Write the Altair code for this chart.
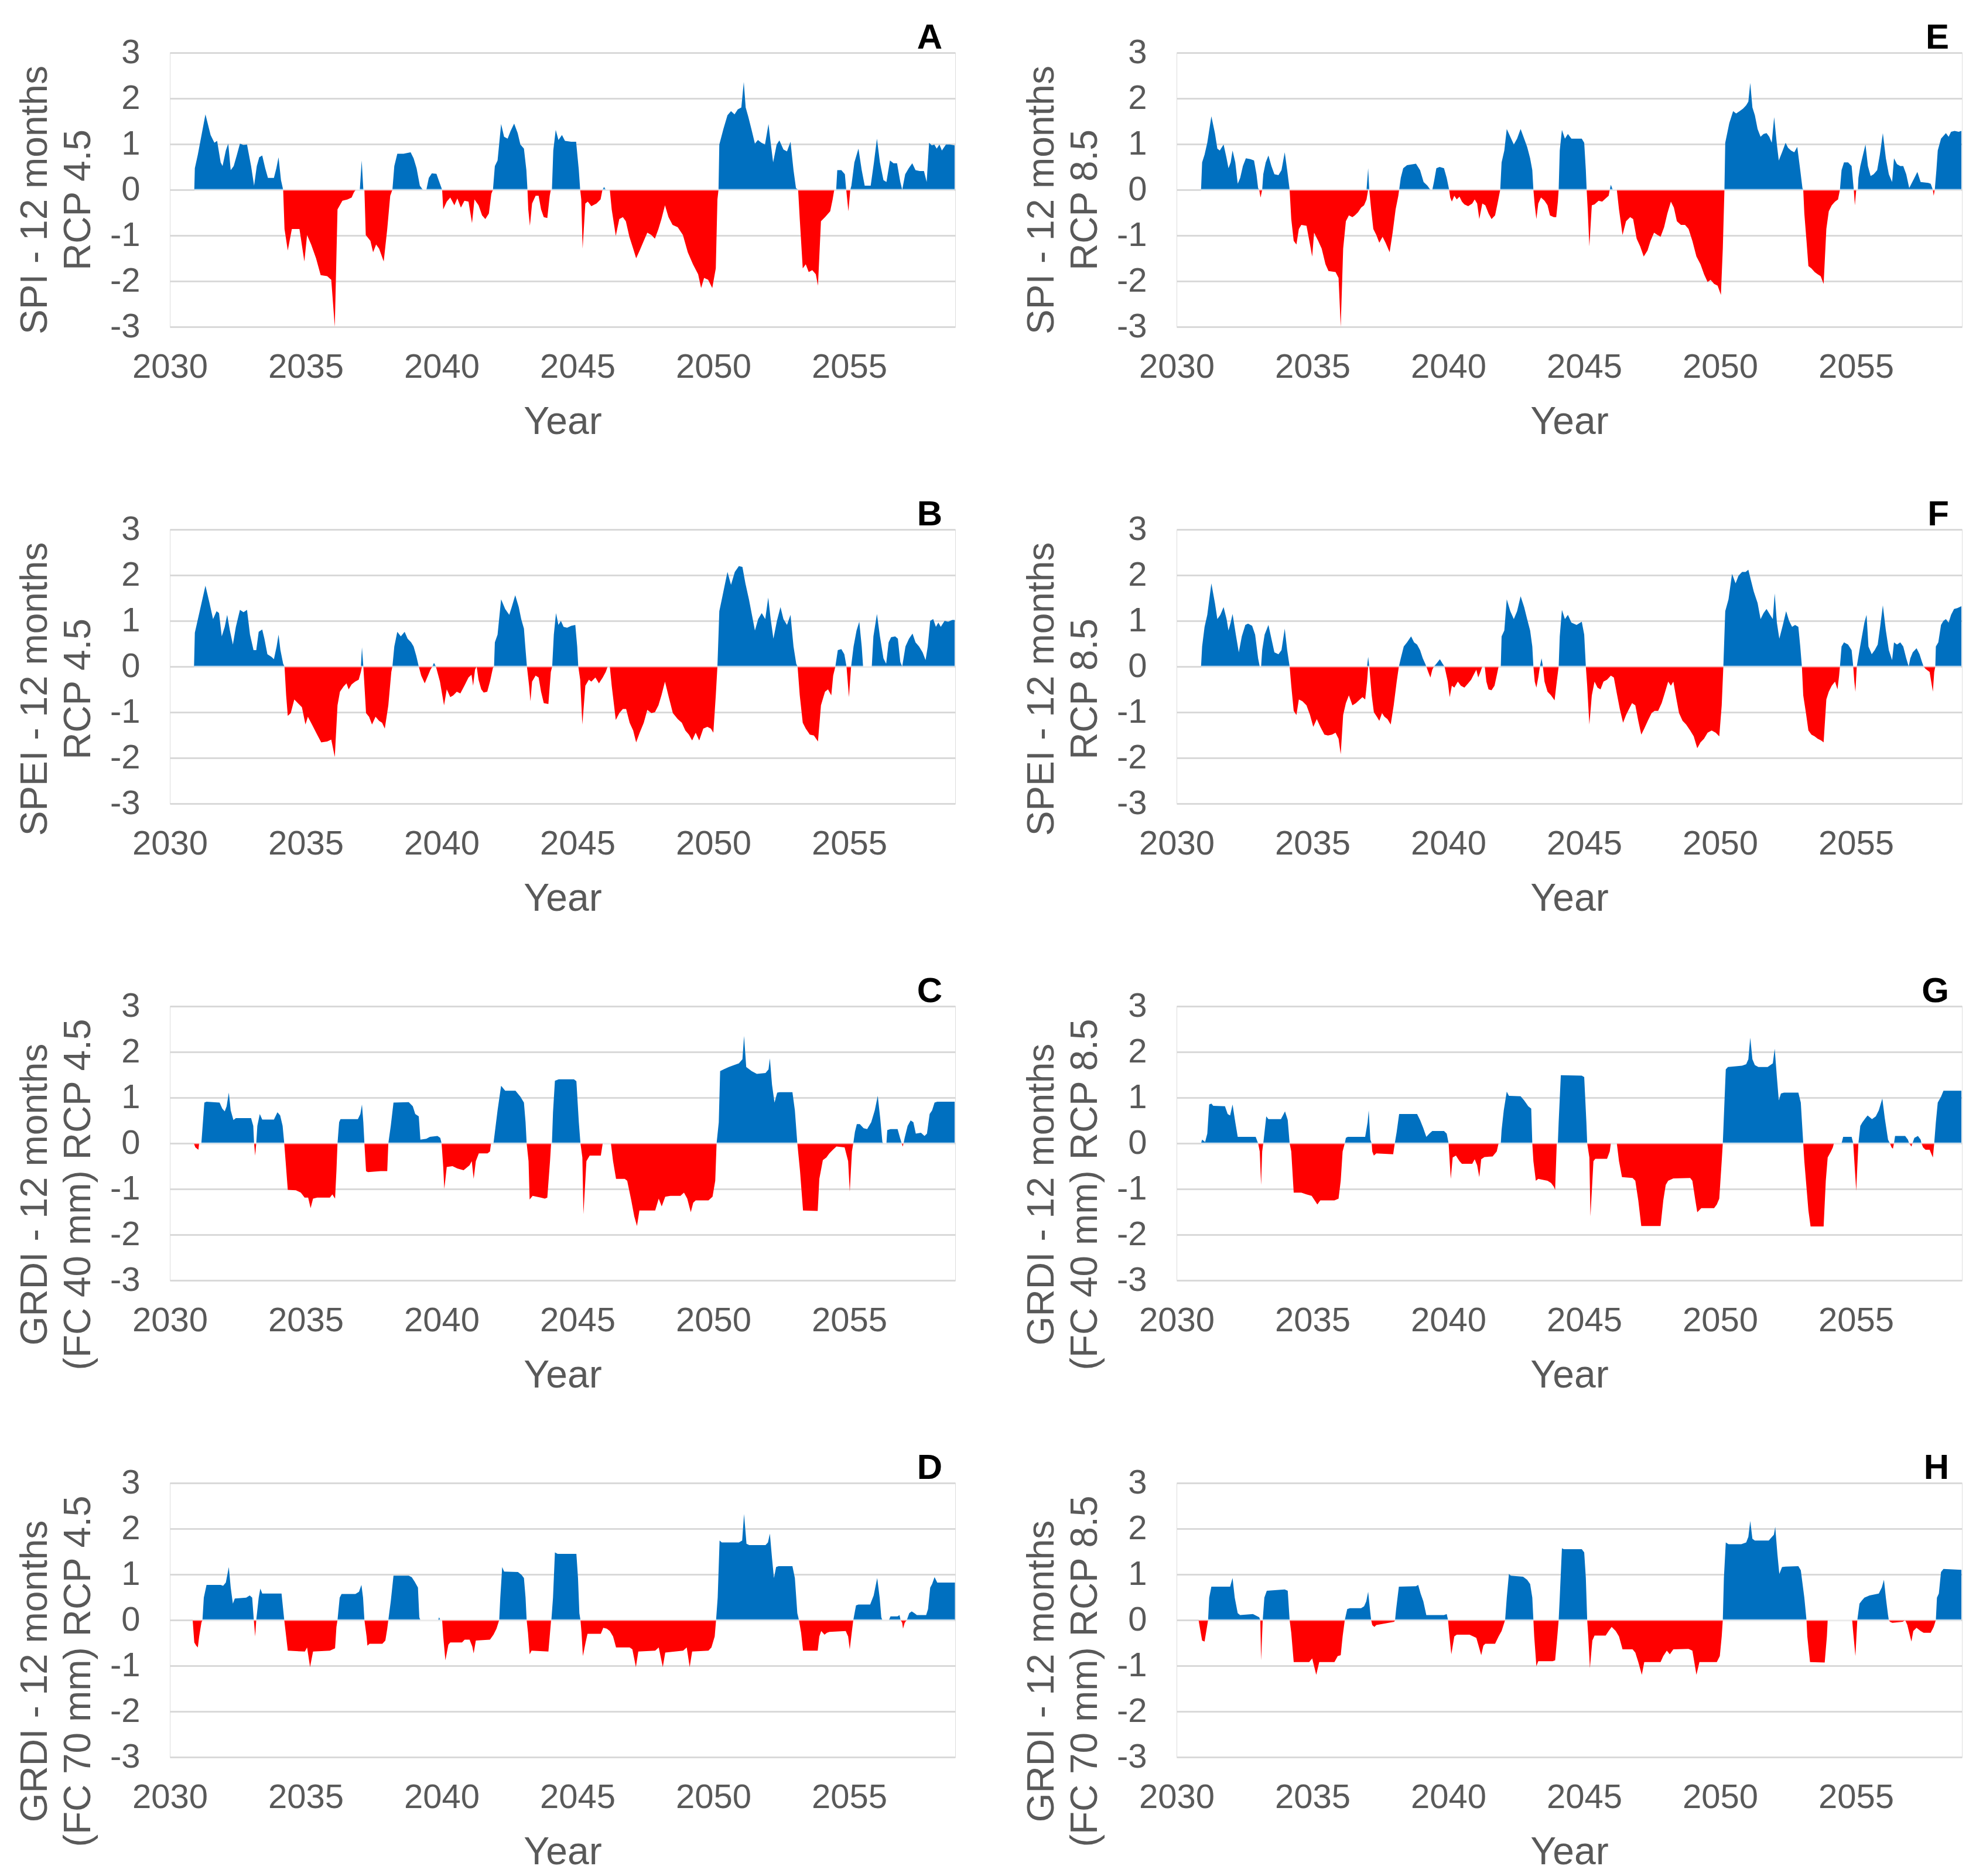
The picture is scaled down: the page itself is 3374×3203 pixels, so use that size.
import altair as alt
import pandas as pd

# ---------------- data: (decimal year, index value) ----------------
SPI_45 = [
(2030.90,0),(2030.92,0.47),(2031.03,0.77),(2031.31,1.65),(2031.50,1.20),(2031.64,1.03),(2031.74,1.07),(2031.87,0.60),(2031.94,0.52),(2032.06,0.86),(2032.15,1.01),(2032.24,0.43),(2032.35,0.52),(2032.47,0.77),(2032.58,1.01),(2032.71,0.98),(2032.84,0.99),(2032.99,0.52),(2033.10,0.09),(2033.20,0.52),(2033.29,0.71),(2033.40,0.75),(2033.51,0.47),(2033.61,0.26),(2033.83,0.26),(2033.92,0.47),(2034.00,0.71),(2034.09,0.21),(2034.17,0),
(2034.22,-0.86),(2034.34,-1.33),(2034.49,-0.86),(2034.77,-0.86),(2034.95,-1.57),(2035.05,-0.99),(2035.20,-1.20),(2035.38,-1.50),(2035.55,-1.87),(2035.79,-1.89),(2035.94,-1.97),(2036.07,-3.0),(2036.17,-0.43),(2036.35,-0.24),(2036.54,-0.21),(2036.69,-0.17),(2036.77,-0.06),(2036.84,0),
(2036.99,0),(2037.06,0.64),(2037.12,0),(2037.16,0),(2037.21,-0.99),(2037.38,-1.12),(2037.48,-1.37),(2037.59,-1.20),(2037.70,-1.29),(2037.87,-1.57),(2038.00,-0.86),(2038.11,-0.13),(2038.19,0),
(2038.26,0.52),(2038.37,0.79),(2038.60,0.79),(2038.86,0.82),(2038.97,0.69),(2039.08,0.47),(2039.20,0.09),(2039.31,0),(2039.44,0),(2039.53,0.26),(2039.64,0.36),(2039.81,0.35),(2039.94,0.13),(2040.02,0),
(2040.06,-0.43),(2040.19,-0.26),(2040.32,-0.17),(2040.47,-0.34),(2040.58,-0.19),(2040.71,-0.39),(2040.84,-0.24),(2040.99,-0.26),(2041.12,-0.73),(2041.21,-0.21),(2041.36,-0.34),(2041.49,-0.56),(2041.61,-0.64),(2041.74,-0.52),(2041.83,-0.09),(2041.89,0),
(2041.96,0.52),(2042.06,0.64),(2042.19,1.44),(2042.30,1.16),(2042.43,1.12),(2042.54,1.29),(2042.67,1.45),(2042.80,1.24),(2042.90,0.99),(2043.03,0.90),(2043.12,0.43),(2043.16,0),
(2043.19,-0.43),(2043.25,-0.79),(2043.33,-0.30),(2043.46,-0.13),(2043.57,-0.13),(2043.66,-0.43),(2043.76,-0.60),(2043.89,-0.62),(2043.98,-0.13),(2044.02,0),
(2044.06,0),(2044.11,0.86),(2044.20,1.31),(2044.30,1.09),(2044.43,1.20),(2044.54,1.07),(2044.77,1.05),(2044.95,1.05),(2045.05,0.43),(2045.10,0),
(2045.14,-0.21),(2045.19,-1.29),(2045.29,-0.30),(2045.38,-0.26),(2045.51,-0.36),(2045.70,-0.30),(2045.85,-0.21),(2045.92,0),(2045.98,0.06),(2046.04,0),(2046.19,0),
(2046.26,-0.43),(2046.41,-1.01),(2046.54,-0.64),(2046.67,-0.60),(2046.78,-0.69),(2046.91,-1.03),(2047.05,-1.29),(2047.16,-1.50),(2047.29,-1.33),(2047.44,-1.12),(2047.57,-0.94),(2047.72,-0.99),(2047.85,-1.07),(2047.98,-0.86),(2048.09,-0.64),(2048.22,-0.34),(2048.35,-0.60),(2048.50,-0.77),(2048.69,-0.82),(2048.88,-0.99),(2049.06,-1.37),(2049.25,-1.63),(2049.44,-1.85),(2049.55,-2.15),(2049.66,-1.93),(2049.81,-1.97),(2049.96,-2.15),(2050.09,-1.72),(2050.15,-0.21),(2050.19,0),
(2050.22,0.99),(2050.37,1.33),(2050.52,1.63),(2050.65,1.72),(2050.78,1.65),(2050.90,1.76),(2051.03,1.80),(2051.12,2.36),(2051.19,1.80),(2051.29,1.59),(2051.40,1.33),(2051.53,1.01),(2051.64,1.09),(2051.77,1.03),(2051.90,0.99),(2052.03,1.44),(2052.11,1.03),(2052.20,0.60),(2052.33,0.99),(2052.43,1.08),(2052.58,0.88),(2052.71,0.84),(2052.84,1.05),(2052.95,0.43),(2053.04,0.04),(2053.12,0),
(2053.18,-0.64),(2053.29,-1.72),(2053.40,-1.63),(2053.51,-1.80),(2053.64,-1.76),(2053.77,-1.85),(2053.85,-2.10),(2053.96,-0.69),(2054.11,-0.60),(2054.30,-0.47),(2054.39,-0.21),(2054.45,0),
(2054.52,0),(2054.56,0.43),(2054.71,0.43),(2054.84,0.34),(2054.89,0),(2054.97,-0.47),(2055.04,0),(2055.08,0.09),(2055.19,0.60),(2055.34,0.90),(2055.46,0.43),(2055.57,0.09),(2055.79,0.09),(2055.91,0.60),(2056.02,1.12),(2056.13,0.60),(2056.26,0.21),(2056.37,0.17),(2056.50,0.64),(2056.63,0.58),(2056.76,0.58),(2056.88,0.17),(2056.95,0),(2057.06,0.34),(2057.19,0.47),(2057.32,0.58),(2057.44,0.43),(2057.59,0.41),(2057.75,0.41),(2057.85,0.17),(2057.94,1.03),(2058.04,0.97),(2058.13,0.99),(2058.22,0.90),(2058.32,0.99),(2058.41,0.86),(2058.56,0.99),(2058.71,0.99),(2058.88,0.97)]

SPEI_45 = [
(2030.89,0),(2030.92,0.74),(2031.31,1.77),(2031.46,1.39),(2031.59,1.04),(2031.72,1.21),(2031.81,1.17),(2031.91,0.66),(2032.02,0.87),(2032.11,1.13),(2032.21,0.79),(2032.32,0.48),(2032.43,0.87),(2032.58,1.24),(2032.71,1.19),(2032.84,1.24),(2032.95,0.70),(2033.08,0.36),(2033.18,0.36),(2033.27,0.76),(2033.40,0.81),(2033.48,0.61),(2033.59,0.27),(2033.74,0.21),(2033.83,0.16),(2033.93,0.44),(2034.00,0.70),(2034.07,0.36),(2034.17,0.06),(2034.22,0),
(2034.28,-0.63),(2034.34,-1.08),(2034.45,-1.02),(2034.58,-0.72),(2034.71,-0.80),(2034.86,-0.89),(2034.99,-1.27),(2035.08,-1.10),(2035.23,-1.27),(2035.42,-1.49),(2035.57,-1.66),(2035.79,-1.64),(2035.94,-1.60),(2036.07,-1.98),(2036.17,-0.85),(2036.26,-0.55),(2036.39,-0.44),(2036.50,-0.37),(2036.58,-0.50),(2036.69,-0.39),(2036.82,-0.33),(2036.95,-0.29),(2037.03,-0.12),(2037.07,0.42),(2037.12,0),
(2037.22,-1.02),(2037.33,-1.10),(2037.44,-1.27),(2037.57,-1.10),(2037.70,-1.19),(2037.81,-1.23),(2037.91,-1.36),(2038.04,-0.85),(2038.15,-0.12),(2038.19,0),
(2038.26,0.44),(2038.37,0.76),(2038.50,0.66),(2038.64,0.76),(2038.75,0.61),(2038.88,0.53),(2038.97,0.44),(2039.07,0.23),(2039.16,0),
(2039.25,-0.20),(2039.38,-0.37),(2039.50,-0.20),(2039.59,-0.07),(2039.66,0),(2039.72,0.08),(2039.79,0),
(2039.94,-0.33),(2040.09,-0.85),(2040.19,-0.50),(2040.32,-0.67),(2040.43,-0.63),(2040.56,-0.55),(2040.69,-0.59),(2040.84,-0.42),(2040.99,-0.24),(2041.10,-0.18),(2041.16,-0.42),(2041.23,-0.07),(2041.29,0),(2041.36,-0.29),(2041.46,-0.50),(2041.55,-0.57),(2041.68,-0.55),(2041.78,-0.33),(2041.89,-0.03),(2041.93,0),
(2041.96,0.53),(2042.06,0.70),(2042.19,1.47),(2042.34,1.26),(2042.49,1.13),(2042.58,1.30),(2042.71,1.56),(2042.84,1.30),(2042.93,1.04),(2043.03,0.83),(2043.08,0.44),(2043.14,0),
(2043.22,-0.42),(2043.27,-0.76),(2043.33,-0.33),(2043.46,-0.20),(2043.57,-0.24),(2043.66,-0.55),(2043.76,-0.80),(2043.93,-0.82),(2044.02,-0.12),(2044.07,0),
(2044.13,0.70),(2044.21,1.17),(2044.30,0.91),(2044.39,1.00),(2044.49,0.87),(2044.62,0.85),(2044.77,0.89),(2044.92,0.91),(2044.99,0.44),(2045.03,0),
(2045.10,-0.29),(2045.18,-1.27),(2045.29,-0.42),(2045.42,-0.29),(2045.51,-0.33),(2045.66,-0.24),(2045.79,-0.37),(2045.93,-0.24),(2046.04,-0.12),(2046.11,0),(2046.19,0),
(2046.26,-0.42),(2046.41,-1.17),(2046.54,-1.02),(2046.67,-0.93),(2046.79,-0.93),(2046.92,-1.23),(2047.05,-1.40),(2047.16,-1.66),(2047.29,-1.45),(2047.44,-1.23),(2047.57,-0.95),(2047.72,-1.02),(2047.85,-1.00),(2047.98,-0.85),(2048.09,-0.63),(2048.22,-0.33),(2048.36,-0.67),(2048.51,-1.02),(2048.69,-1.15),(2048.84,-1.23),(2048.97,-1.40),(2049.10,-1.49),(2049.22,-1.62),(2049.35,-1.45),(2049.48,-1.62),(2049.63,-1.36),(2049.78,-1.32),(2049.91,-1.36),(2050.00,-1.45),(2050.09,-0.63),(2050.15,0),
(2050.22,1.21),(2050.37,1.64),(2050.52,2.07),(2050.65,1.79),(2050.79,2.07),(2050.94,2.20),(2051.07,2.18),(2051.18,1.82),(2051.31,1.47),(2051.42,1.13),(2051.53,0.79),(2051.65,1.04),(2051.78,1.17),(2051.91,1.04),(2052.02,1.51),(2052.11,1.04),(2052.21,0.61),(2052.34,1.00),(2052.47,1.30),(2052.58,1.04),(2052.71,0.91),(2052.84,1.13),(2052.95,0.44),(2053.05,0.06),(2053.10,0),
(2053.18,-0.63),(2053.29,-1.23),(2053.40,-1.36),(2053.55,-1.49),(2053.70,-1.51),(2053.85,-1.64),(2053.96,-0.85),(2054.11,-0.55),(2054.22,-0.50),(2054.34,-0.63),(2054.41,-0.20),(2054.49,0),
(2054.58,0.36),(2054.71,0.38),(2054.82,0.27),(2054.90,0),(2054.99,-0.67),(2055.07,0),(2055.16,0.44),(2055.27,0.79),(2055.37,0.98),(2055.46,0.44),(2055.51,0),(2055.83,0),
(2055.89,0.66),(2056.02,1.15),(2056.13,0.66),(2056.26,0.18),(2056.36,0.06),(2056.45,0.53),(2056.54,0.64),(2056.69,0.66),(2056.79,0.61),(2056.88,0.10),(2056.95,0),(2057.07,0.44),(2057.20,0.61),(2057.33,0.72),(2057.44,0.53),(2057.57,0.44),(2057.70,0.31),(2057.81,0.14),(2057.89,0.44),(2057.98,1.00),(2058.09,1.04),(2058.19,0.87),(2058.28,0.96),(2058.37,0.87),(2058.51,1.00),(2058.64,0.98),(2058.79,1.02),(2058.88,1.02)]

GRDI40_45 = [
(2030.88,0),(2030.94,-0.09),(2031.05,-0.14),(2031.08,0),(2031.16,0),(2031.27,0.89),(2031.35,0.91),(2031.83,0.89),(2031.93,0.76),(2032.02,0.70),(2032.09,0.81),(2032.17,1.11),(2032.24,0.72),(2032.34,0.51),(2032.43,0.55),(2032.99,0.55),(2033.07,0.38),(2033.10,0),(2033.14,-0.27),(2033.18,0),(2033.22,0.38),(2033.31,0.64),(2033.40,0.52),(2033.83,0.52),(2033.96,0.68),(2034.06,0.61),(2034.15,0.38),(2034.21,0),
(2034.26,-0.39),(2034.34,-1.02),(2034.64,-1.03),(2034.82,-1.08),(2034.96,-1.19),(2035.09,-1.19),(2035.18,-1.42),(2035.27,-1.21),(2035.42,-1.19),(2035.89,-1.19),(2035.98,-1.12),(2036.08,-1.21),(2036.13,-0.61),(2036.17,0),
(2036.23,0.46),(2036.28,0.53),(2036.92,0.53),(2037.01,0.64),(2037.07,0.85),(2037.12,0.46),(2037.16,0),
(2037.22,-0.61),(2037.29,-0.63),(2037.76,-0.61),(2038.00,-0.61),(2038.04,0),
(2038.13,0.38),(2038.23,0.89),(2038.79,0.90),(2038.94,0.81),(2039.03,0.64),(2039.16,0.59),(2039.22,0.08),(2039.44,0.10),(2039.57,0.14),(2039.85,0.16),(2039.95,0.12),(2040.00,0),
(2040.06,-0.52),(2040.10,-1.00),(2040.19,-0.52),(2040.40,-0.50),(2040.58,-0.55),(2040.81,-0.59),(2041.03,-0.48),(2041.11,-0.39),(2041.18,-0.78),(2041.26,-0.39),(2041.37,-0.22),(2041.69,-0.22),(2041.78,-0.18),(2041.82,0),(2041.91,0),
(2041.97,0.29),(2042.06,0.72),(2042.19,1.26),(2042.34,1.15),(2042.72,1.15),(2042.90,1.02),(2043.03,0.89),(2043.09,0.46),(2043.13,0),
(2043.20,-0.39),(2043.24,-1.23),(2043.35,-1.15),(2043.65,-1.19),(2043.80,-1.21),(2043.89,-1.19),(2043.99,-0.39),(2044.03,0),(2044.06,0),
(2044.10,0.68),(2044.17,1.37),(2044.31,1.40),(2044.87,1.40),(2044.96,1.36),(2045.05,0.46),(2045.11,0),
(2045.18,-0.31),(2045.22,-1.55),(2045.33,-0.39),(2045.45,-0.27),(2045.86,-0.27),(2045.93,0),(2046.23,0),
(2046.31,-0.39),(2046.42,-0.78),(2046.74,-0.78),(2046.83,-0.82),(2046.98,-1.25),(2047.09,-1.60),(2047.19,-1.81),(2047.28,-1.47),(2047.86,-1.47),(2047.99,-1.21),(2048.10,-1.38),(2048.23,-1.17),(2048.42,-1.15),(2048.79,-1.15),(2048.92,-1.08),(2049.04,-1.21),(2049.17,-1.51),(2049.26,-1.30),(2049.35,-1.25),(2049.82,-1.25),(2049.97,-1.17),(2050.07,-0.82),(2050.12,0),
(2050.20,0.46),(2050.25,1.58),(2050.38,1.62),(2050.57,1.67),(2050.76,1.71),(2050.94,1.75),(2051.07,1.84),(2051.13,2.35),(2051.21,1.67),(2051.41,1.58),(2051.60,1.52),(2051.92,1.54),(2052.03,1.62),(2052.08,1.86),(2052.16,1.28),(2052.25,0.89),(2052.35,1.11),(2052.44,1.12),(2052.91,1.12),(2053.00,0.72),(2053.09,0),
(2053.19,-0.61),(2053.30,-1.47),(2053.84,-1.48),(2053.90,-0.78),(2054.03,-0.37),(2054.16,-0.31),(2054.27,-0.22),(2054.40,-0.14),(2054.53,-0.07),(2054.83,-0.09),(2054.96,-0.39),(2055.02,-1.06),(2055.10,-0.18),(2055.15,0),
(2055.21,0.25),(2055.28,0.42),(2055.39,0.42),(2055.53,0.33),(2055.66,0.31),(2055.81,0.46),(2055.94,0.72),(2056.05,1.04),(2056.14,0.55),(2056.22,0.03),(2056.25,0),(2056.37,0),(2056.40,0.29),(2056.52,0.31),(2056.78,0.31),(2056.87,0.12),(2056.93,0),(2056.97,-0.07),(2057.00,0),(2057.04,0.12),(2057.15,0.38),(2057.26,0.50),(2057.36,0.46),(2057.45,0.21),(2057.64,0.23),(2057.77,0.16),(2057.86,0.21),(2057.96,0.64),(2058.05,0.72),(2058.14,0.89),(2058.24,0.91),(2058.88,0.91)]

GRDI70_45 = [
(2030.84,0),(2030.90,-0.49),(2030.97,-0.56),(2031.03,-0.60),(2031.08,-0.36),(2031.16,-0.06),(2031.20,0),(2031.25,0.49),(2031.35,0.77),(2031.87,0.77),(2031.96,0.75),(2032.06,0.82),(2032.17,1.16),(2032.24,0.71),(2032.32,0.36),(2032.39,0.47),(2032.81,0.49),(2032.94,0.54),(2033.03,0.49),(2033.09,0),(2033.14,-0.36),(2033.18,0),(2033.27,0.49),(2033.33,0.69),(2033.40,0.58),(2034.11,0.58),(2034.21,0),
(2034.28,-0.36),(2034.34,-0.67),(2034.97,-0.69),(2035.05,-0.60),(2035.16,-1.03),(2035.27,-0.69),(2035.89,-0.67),(2036.08,-0.62),(2036.13,-0.15),(2036.17,0),
(2036.25,0.49),(2036.32,0.57),(2036.83,0.57),(2036.96,0.62),(2037.05,0.77),(2037.11,0.49),(2037.16,0),
(2037.24,-0.36),(2037.27,-0.56),(2037.35,-0.52),(2037.82,-0.52),(2037.93,-0.45),(2038.00,-0.19),(2038.04,0),
(2038.13,0.41),(2038.23,0.97),(2038.79,0.97),(2038.90,0.94),(2039.01,0.84),(2039.13,0.71),(2039.18,0.06),(2039.22,0),(2039.87,0),(2039.91,0.06),(2039.95,0),(2040.02,0),
(2040.06,-0.36),(2040.14,-0.88),(2040.25,-0.54),(2040.32,-0.49),(2040.75,-0.49),(2040.85,-0.43),(2041.03,-0.43),(2041.13,-0.58),(2041.18,-0.73),(2041.26,-0.45),(2041.78,-0.43),(2041.91,-0.32),(2042.02,-0.19),(2042.12,0),
(2042.16,0.49),(2042.23,1.16),(2042.30,1.06),(2042.81,1.05),(2042.94,0.99),(2043.03,0.92),(2043.09,0.49),(2043.13,0),
(2043.18,-0.28),(2043.24,-0.75),(2043.31,-0.67),(2043.93,-0.69),(2043.99,-0.28),(2044.03,0),(2044.04,0),
(2044.10,0.49),(2044.17,1.48),(2044.27,1.45),(2044.96,1.45),(2045.02,0.92),(2045.07,0.15),(2045.11,0),
(2045.15,-0.28),(2045.20,-0.79),(2045.30,-0.49),(2045.37,-0.30),(2045.86,-0.30),(2045.95,-0.17),(2046.08,-0.19),(2046.19,-0.24),(2046.31,-0.36),(2046.42,-0.60),(2046.92,-0.60),(2047.02,-0.64),(2047.15,-1.03),(2047.24,-0.69),(2047.86,-0.67),(2047.99,-0.60),(2048.14,-1.03),(2048.23,-0.71),(2048.89,-0.67),(2049.02,-0.60),(2049.13,-1.03),(2049.22,-0.69),(2049.82,-0.67),(2049.93,-0.60),(2050.05,-0.36),(2050.10,0),
(2050.16,0.49),(2050.23,1.74),(2050.31,1.70),(2050.94,1.70),(2051.06,1.74),(2051.13,2.32),(2051.22,1.67),(2051.32,1.64),(2051.92,1.64),(2052.01,1.70),(2052.08,1.89),(2052.16,1.35),(2052.23,0.92),(2052.31,1.16),(2052.40,1.18),(2052.91,1.18),(2053.00,0.92),(2053.09,0.15),(2053.15,0),
(2053.23,-0.28),(2053.30,-0.67),(2053.84,-0.67),(2053.90,-0.36),(2053.97,-0.24),(2054.09,-0.32),(2054.18,-0.28),(2054.27,-0.26),(2054.87,-0.24),(2054.96,-0.36),(2055.02,-0.64),(2055.10,-0.24),(2055.15,0),
(2055.25,0.32),(2055.34,0.34),(2055.77,0.34),(2055.90,0.54),(2056.03,0.92),(2056.12,0.49),(2056.18,0.06),(2056.22,0),(2056.46,0),(2056.52,0.08),(2056.78,0.08),(2056.85,0.11),(2056.89,0),(2056.95,-0.06),(2056.98,-0.19),(2057.04,-0.06),(2057.12,0),
(2057.21,0.15),(2057.30,0.19),(2057.40,0.15),(2057.49,0.11),(2057.83,0.11),(2057.90,0.24),(2057.98,0.71),(2058.05,0.79),(2058.14,0.94),(2058.24,0.82),(2058.89,0.82)]

SPI_85 = [
(2030.90,0),(2030.94,0.60),(2031.03,0.77),(2031.13,1.03),(2031.28,1.61),(2031.41,1.24),(2031.50,0.90),(2031.59,0.86),(2031.73,0.99),(2031.84,0.69),(2031.91,0.47),(2031.99,0.60),(2032.06,0.86),(2032.16,0.60),(2032.25,0.13),(2032.34,0.26),(2032.44,0.52),(2032.55,0.69),(2032.72,0.67),(2032.85,0.64),(2032.94,0.34),(2033.00,0.04),(2033.04,0),(2033.09,-0.17),(2033.15,0),(2033.19,0.34),(2033.28,0.60),(2033.38,0.75),(2033.49,0.52),(2033.60,0.34),(2033.75,0.32),(2033.86,0.43),(2033.98,0.82),(2034.07,0.43),(2034.16,0),
(2034.22,-0.64),(2034.31,-1.12),(2034.41,-1.20),(2034.50,-0.86),(2034.59,-0.77),(2034.78,-0.79),(2034.91,-1.20),(2034.99,-1.46),(2035.06,-0.94),(2035.21,-1.12),(2035.34,-1.29),(2035.48,-1.63),(2035.59,-1.78),(2035.85,-1.80),(2035.96,-1.93),(2036.04,-3.0),(2036.13,-1.29),(2036.23,-0.69),(2036.34,-0.56),(2036.47,-0.60),(2036.56,-0.56),(2036.68,-0.49),(2036.79,-0.39),(2036.90,-0.34),(2036.99,-0.21),(2037.05,0.47),(2037.09,0),
(2037.16,-0.43),(2037.24,-0.86),(2037.35,-0.99),(2037.46,-1.16),(2037.58,-1.03),(2037.69,-1.16),(2037.84,-1.37),(2037.95,-0.94),(2038.06,-0.43),(2038.16,-0.13),(2038.19,0),
(2038.25,0.26),(2038.34,0.47),(2038.48,0.54),(2038.81,0.57),(2038.96,0.43),(2039.09,0.17),(2039.23,0.09),(2039.34,0),(2039.41,0),(2039.47,0.17),(2039.56,0.47),(2039.68,0.50),(2039.84,0.47),(2039.94,0.26),(2040.03,0),
(2040.07,-0.17),(2040.13,-0.26),(2040.22,-0.13),(2040.31,-0.21),(2040.41,-0.15),(2040.50,-0.26),(2040.59,-0.32),(2040.73,-0.36),(2040.88,-0.30),(2040.97,-0.21),(2041.06,-0.30),(2041.14,-0.64),(2041.25,-0.30),(2041.36,-0.34),(2041.48,-0.52),(2041.59,-0.64),(2041.72,-0.56),(2041.81,-0.30),(2041.91,0),
(2041.96,0.60),(2042.06,0.86),(2042.15,1.33),(2042.28,1.16),(2042.41,0.99),(2042.53,1.12),(2042.66,1.33),(2042.79,1.12),(2042.90,0.94),(2043.01,0.69),(2043.09,0.43),(2043.13,0),
(2043.18,-0.34),(2043.24,-0.64),(2043.31,-0.30),(2043.41,-0.17),(2043.54,-0.24),(2043.65,-0.34),(2043.74,-0.56),(2043.88,-0.60),(2043.97,-0.60),(2044.03,-0.26),(2044.06,0),
(2044.10,0.86),(2044.18,1.31),(2044.29,1.12),(2044.40,1.22),(2044.53,1.12),(2044.91,1.12),(2045.00,1.03),(2045.06,0.43),(2045.09,0),
(2045.13,-0.43),(2045.19,-1.24),(2045.28,-0.34),(2045.38,-0.32),(2045.53,-0.24),(2045.66,-0.26),(2045.79,-0.19),(2045.90,-0.13),(2045.94,0),(2045.98,0.11),(2046.05,0),(2046.20,0),
(2046.28,-0.43),(2046.41,-0.99),(2046.54,-0.69),(2046.69,-0.60),(2046.80,-0.64),(2046.93,-1.07),(2047.06,-1.24),(2047.19,-1.46),(2047.33,-1.33),(2047.44,-1.12),(2047.57,-0.94),(2047.70,-0.99),(2047.81,-1.03),(2047.94,-0.82),(2048.06,-0.52),(2048.19,-0.26),(2048.30,-0.39),(2048.41,-0.69),(2048.56,-0.77),(2048.71,-0.77),(2048.84,-0.86),(2048.98,-1.12),(2049.13,-1.46),(2049.28,-1.63),(2049.41,-1.85),(2049.54,-2.02),(2049.65,-1.97),(2049.78,-2.06),(2049.91,-2.10),(2050.03,-2.30),(2050.10,-1.29),(2050.16,0),
(2050.19,1.03),(2050.34,1.46),(2050.48,1.72),(2050.59,1.67),(2050.72,1.72),(2050.85,1.78),(2050.96,1.85),(2051.04,1.93),(2051.11,2.34),(2051.19,1.80),(2051.28,1.63),(2051.38,1.33),(2051.49,1.16),(2051.60,1.22),(2051.71,1.24),(2051.81,1.16),(2051.90,1.03),(2051.99,1.59),(2052.09,0.99),(2052.16,0.64),(2052.28,0.82),(2052.41,1.03),(2052.50,0.92),(2052.61,0.86),(2052.73,0.82),(2052.84,0.94),(2052.95,0.43),(2053.03,0.04),(2053.06,0),
(2053.10,-0.52),(2053.18,-1.12),(2053.25,-1.67),(2053.36,-1.72),(2053.48,-1.80),(2053.59,-1.85),(2053.70,-1.89),(2053.81,-2.06),(2053.91,-0.86),(2054.00,-0.47),(2054.11,-0.34),(2054.23,-0.26),(2054.34,-0.21),(2054.41,0),
(2054.47,0.43),(2054.56,0.60),(2054.71,0.60),(2054.84,0.52),(2054.92,0),(2054.96,-0.34),(2055.01,0),(2055.07,0),(2055.09,0.26),(2055.16,0.52),(2055.26,0.77),(2055.35,0.99),(2055.44,0.52),(2055.54,0.30),(2055.65,0.34),(2055.78,0.43),(2055.88,0.77),(2055.99,1.24),(2056.10,0.69),(2056.21,0.34),(2056.33,0.17),(2056.40,0.69),(2056.51,0.56),(2056.63,0.52),(2056.74,0.52),(2056.85,0.34),(2056.96,0.04),(2057.04,0.13),(2057.15,0.26),(2057.26,0.39),(2057.38,0.17),(2057.66,0.15),(2057.75,0.13),(2057.83,0),(2057.86,-0.13),(2057.90,0),
(2057.96,0.43),(2058.01,0.86),(2058.13,1.12),(2058.22,1.18),(2058.31,1.24),(2058.41,1.16),(2058.50,1.27),(2058.63,1.29),(2058.78,1.27),(2058.88,1.29)]

SPEI_85 = [
(2030.90,0),(2030.94,0.44),(2031.03,0.87),(2031.13,1.13),(2031.28,1.82),(2031.41,1.39),(2031.50,1.04),(2031.61,1.13),(2031.73,1.30),(2031.84,1.04),(2031.91,0.79),(2031.99,0.96),(2032.06,1.15),(2032.18,0.70),(2032.29,0.31),(2032.40,0.66),(2032.53,0.91),(2032.63,0.94),(2032.78,0.89),(2032.89,0.70),(2033.00,0.18),(2033.06,0),(2033.11,0),(2033.15,0.36),(2033.24,0.70),(2033.38,0.91),(2033.49,0.61),(2033.60,0.31),(2033.75,0.27),(2033.86,0.36),(2033.98,0.83),(2034.07,0.36),(2034.16,0),
(2034.22,-0.42),(2034.31,-0.97),(2034.41,-1.06),(2034.50,-0.72),(2034.63,-0.76),(2034.78,-0.85),(2034.91,-1.06),(2035.03,-1.32),(2035.16,-1.15),(2035.29,-1.32),(2035.44,-1.49),(2035.57,-1.51),(2035.72,-1.49),(2035.85,-1.45),(2035.96,-1.58),(2036.04,-1.92),(2036.13,-1.06),(2036.23,-0.80),(2036.34,-0.63),(2036.47,-0.85),(2036.60,-0.80),(2036.71,-0.74),(2036.84,-0.67),(2036.94,-0.72),(2037.01,-0.33),(2037.05,0.21),(2037.09,0),
(2037.18,-0.63),(2037.26,-1.00),(2037.37,-1.10),(2037.46,-1.19),(2037.56,-1.02),(2037.65,-1.10),(2037.76,-1.15),(2037.88,-1.27),(2037.99,-0.85),(2038.10,-0.33),(2038.18,0),
(2038.25,0.18),(2038.36,0.44),(2038.48,0.53),(2038.63,0.66),(2038.74,0.53),(2038.85,0.48),(2038.96,0.36),(2039.06,0.18),(2039.15,0.06),(2039.19,0),(2039.26,-0.12),(2039.34,-0.24),(2039.41,-0.07),(2039.47,0),(2039.56,0.06),(2039.69,0.16),(2039.79,0.06),(2039.86,0),
(2039.98,-0.33),(2040.05,-0.67),(2040.13,-0.42),(2040.22,-0.46),(2040.35,-0.33),(2040.46,-0.42),(2040.59,-0.46),(2040.73,-0.37),(2040.84,-0.29),(2040.95,-0.16),(2041.03,-0.07),(2041.10,-0.24),(2041.18,-0.12),(2041.25,0),(2041.34,0),(2041.40,-0.33),(2041.48,-0.50),(2041.59,-0.52),(2041.70,-0.42),(2041.78,-0.20),(2041.85,0),(2041.93,0),
(2041.96,0.66),(2042.06,0.79),(2042.15,1.47),(2042.28,1.21),(2042.41,1.04),(2042.53,1.21),(2042.66,1.54),(2042.79,1.30),(2042.90,1.04),(2043.01,0.79),(2043.09,0.44),(2043.13,0),
(2043.18,-0.33),(2043.24,-0.46),(2043.31,-0.24),(2043.37,0),(2043.43,0.18),(2043.48,0),(2043.54,-0.33),(2043.65,-0.55),(2043.78,-0.63),(2043.91,-0.74),(2043.99,-0.33),(2044.06,0),
(2044.10,0.66),(2044.18,1.24),(2044.29,1.04),(2044.40,1.13),(2044.53,0.96),(2044.72,0.91),(2044.91,0.98),(2045.00,0.70),(2045.06,0),
(2045.11,-0.42),(2045.19,-1.27),(2045.28,-0.63),(2045.38,-0.33),(2045.49,-0.46),(2045.60,-0.50),(2045.71,-0.33),(2045.84,-0.29),(2045.98,-0.20),(2046.09,-0.24),(2046.20,-0.59),(2046.31,-0.93),(2046.43,-1.23),(2046.54,-1.06),(2046.65,-0.93),(2046.76,-0.80),(2046.88,-0.85),(2046.99,-1.19),(2047.10,-1.49),(2047.21,-1.36),(2047.34,-1.19),(2047.48,-1.02),(2047.59,-0.97),(2047.72,-0.97),(2047.85,-0.80),(2047.96,-0.59),(2048.09,-0.33),(2048.19,-0.42),(2048.28,-0.33),(2048.38,-0.67),(2048.49,-1.02),(2048.62,-1.19),(2048.75,-1.27),(2048.90,-1.40),(2049.03,-1.53),(2049.16,-1.79),(2049.28,-1.66),(2049.41,-1.58),(2049.54,-1.45),(2049.69,-1.40),(2049.84,-1.45),(2049.97,-1.53),(2050.06,-0.85),(2050.12,0),
(2050.19,1.21),(2050.31,1.47),(2050.44,2.03),(2050.57,1.82),(2050.68,1.99),(2050.81,2.07),(2050.94,2.07),(2051.04,2.12),(2051.13,1.90),(2051.24,1.64),(2051.38,1.39),(2051.49,1.04),(2051.60,1.17),(2051.71,1.26),(2051.84,1.13),(2051.94,1.04),(2052.01,1.60),(2052.09,0.96),(2052.18,0.61),(2052.31,0.91),(2052.43,1.21),(2052.54,1.00),(2052.65,0.87),(2052.76,0.91),(2052.88,0.87),(2052.95,0.44),(2053.01,0),
(2053.06,-0.63),(2053.16,-1.02),(2053.25,-1.40),(2053.36,-1.49),(2053.48,-1.53),(2053.59,-1.58),(2053.72,-1.62),(2053.81,-1.66),(2053.91,-0.72),(2054.00,-0.55),(2054.11,-0.42),(2054.23,-0.33),(2054.32,-0.50),(2054.38,-0.20),(2054.41,0),
(2054.47,0.44),(2054.56,0.53),(2054.71,0.48),(2054.84,0.36),(2054.90,0),(2054.94,-0.33),(2054.98,-0.55),(2055.03,0),(2055.13,0.36),(2055.22,0.66),(2055.31,0.96),(2055.39,1.13),(2055.46,0.44),(2055.58,0.27),(2055.69,0.36),(2055.80,0.48),(2055.89,0.87),(2055.99,1.34),(2056.10,0.79),(2056.21,0.36),(2056.33,0.14),(2056.40,0.53),(2056.51,0.48),(2056.63,0.53),(2056.74,0.44),(2056.85,0.18),(2056.94,0),(2057.00,0.18),(2057.09,0.31),(2057.23,0.40),(2057.34,0.27),(2057.43,0.10),(2057.49,0),(2057.56,-0.05),(2057.71,-0.12),(2057.83,-0.55),(2057.88,-0.12),(2057.92,0),
(2057.94,0.44),(2058.03,0.53),(2058.13,0.91),(2058.22,1.00),(2058.31,1.04),(2058.41,0.96),(2058.50,1.13),(2058.61,1.26),(2058.73,1.28),(2058.88,1.32)]

GRDI40_85 = [
(2030.90,0),(2030.94,0.08),(2031.05,0.03),(2031.13,0.21),(2031.20,0.85),(2031.28,0.87),(2031.35,0.82),(2031.78,0.81),(2031.88,0.64),(2031.97,0.61),(2032.06,0.85),(2032.16,0.46),(2032.25,0.14),(2032.91,0.14),(2033.00,0),(2033.06,-0.18),(2033.11,-0.91),(2033.15,-0.18),(2033.19,0),(2033.23,0.21),(2033.30,0.59),(2033.38,0.53),(2033.84,0.53),(2033.94,0.64),(2033.99,0.70),(2034.09,0.51),(2034.16,0),
(2034.22,-0.18),(2034.31,-1.08),(2034.59,-1.08),(2034.78,-1.12),(2034.97,-1.15),(2035.06,-1.23),(2035.18,-1.34),(2035.29,-1.25),(2035.81,-1.25),(2035.96,-1.21),(2036.04,-0.82),(2036.11,-0.18),(2036.19,0),
(2036.23,0.12),(2036.30,0.14),(2036.94,0.14),(2037.03,0.46),(2037.07,0.72),(2037.13,0.08),(2037.18,0),(2037.20,-0.18),(2037.26,-0.27),(2037.35,-0.22),(2037.97,-0.24),(2038.03,0),
(2038.10,0.25),(2038.19,0.64),(2038.85,0.64),(2038.96,0.51),(2039.08,0.33),(2039.19,0.14),(2039.30,0.21),(2039.41,0.27),(2039.84,0.27),(2039.94,0.21),(2040.01,0),
(2040.05,-0.39),(2040.09,-0.78),(2040.16,-0.31),(2040.28,-0.27),(2040.41,-0.39),(2040.50,-0.45),(2040.88,-0.45),(2040.97,-0.35),(2041.06,-0.48),(2041.14,-0.74),(2041.21,-0.35),(2041.33,-0.30),(2041.63,-0.29),(2041.78,-0.18),(2041.85,0),(2041.93,0),
(2041.96,0.29),(2042.04,0.72),(2042.15,1.13),(2042.23,1.04),(2042.66,1.03),(2042.79,0.94),(2042.94,0.81),(2043.05,0.76),(2043.09,0),
(2043.13,-0.39),(2043.22,-0.82),(2043.31,-0.78),(2043.65,-0.82),(2043.78,-0.87),(2043.88,-0.95),(2043.93,-1.02),(2043.99,0),(2044.03,0),
(2044.06,0.46),(2044.14,1.49),(2044.91,1.48),(2045.00,1.45),(2045.08,0.46),(2045.11,0),
(2045.19,-0.31),(2045.23,-1.60),(2045.34,-0.39),(2045.41,-0.34),(2045.84,-0.34),(2045.94,-0.18),(2045.98,0),(2046.20,0),
(2046.28,-0.39),(2046.39,-0.74),(2046.78,-0.76),(2046.88,-0.82),(2046.99,-1.25),(2047.10,-1.81),(2047.81,-1.81),(2047.91,-1.25),(2048.00,-0.91),(2048.09,-0.82),(2048.28,-0.77),(2048.90,-0.76),(2048.98,-0.82),(2049.09,-1.25),(2049.16,-1.51),(2049.31,-1.42),(2049.78,-1.42),(2049.88,-1.34),(2049.97,-1.21),(2050.06,-0.39),(2050.10,0),
(2050.16,0.89),(2050.21,1.62),(2050.29,1.67),(2050.81,1.70),(2050.96,1.73),(2051.04,1.84),(2051.11,2.31),(2051.19,1.84),(2051.28,1.71),(2051.41,1.67),(2051.75,1.67),(2051.94,1.75),(2052.01,2.07),(2052.09,1.45),(2052.16,0.94),(2052.24,1.09),(2052.35,1.11),(2052.88,1.11),(2052.97,0.89),(2053.06,0),
(2053.10,-0.39),(2053.25,-1.47),(2053.33,-1.82),(2053.81,-1.82),(2053.89,-0.82),(2053.96,-0.31),(2054.08,-0.18),(2054.15,-0.09),(2054.19,0),(2054.47,0),
(2054.53,0.14),(2054.84,0.14),(2054.90,0),(2054.94,-0.39),(2055.01,-1.04),(2055.09,0),(2055.16,0.38),(2055.24,0.46),(2055.35,0.55),(2055.43,0.61),(2055.59,0.53),(2055.73,0.59),(2055.84,0.72),(2055.97,0.98),(2056.06,0.55),(2056.18,0.08),(2056.25,0),(2056.31,-0.09),(2056.36,-0.12),(2056.40,0),(2056.44,0.16),(2056.81,0.16),(2056.91,0.08),(2056.96,0),(2057.04,-0.07),(2057.08,0),(2057.15,0.12),(2057.28,0.16),(2057.38,0.08),(2057.41,0),(2057.47,-0.09),(2057.56,-0.14),(2057.71,-0.14),(2057.83,-0.31),(2057.88,0),
(2057.94,0.46),(2058.01,0.89),(2058.13,1.02),(2058.22,1.15),(2058.88,1.15)]

GRDI70_85 = [
(2030.81,0),(2030.84,-0.11),(2030.94,-0.45),(2031.03,-0.47),(2031.13,-0.11),(2031.16,0),(2031.20,0.49),(2031.28,0.73),(2031.97,0.73),(2032.06,0.92),(2032.14,0.49),(2032.25,0.15),(2032.34,0.11),(2032.81,0.13),(2033.04,0.06),(2033.08,0),(2033.11,-0.88),(2033.17,0),(2033.23,0.49),(2033.32,0.64),(2033.98,0.67),(2034.09,0.64),(2034.16,0),
(2034.22,-0.28),(2034.31,-0.92),(2034.88,-0.92),(2034.99,-0.84),(2035.06,-1.01),(2035.14,-1.20),(2035.25,-0.92),(2035.81,-0.92),(2035.93,-0.79),(2036.04,-0.77),(2036.11,-0.36),(2036.19,0),
(2036.23,0.11),(2036.28,0.24),(2036.38,0.26),(2036.79,0.26),(2036.90,0.30),(2036.98,0.41),(2037.05,0.62),(2037.13,0.15),(2037.16,0),(2037.20,-0.11),(2037.28,-0.15),(2037.35,-0.11),(2038.01,-0.04),(2038.04,0),
(2038.08,0.24),(2038.18,0.73),(2038.81,0.74),(2038.89,0.77),(2038.98,0.58),(2039.08,0.41),(2039.19,0.11),(2039.84,0.11),(2039.94,0.13),(2039.99,0),
(2040.03,-0.28),(2040.11,-0.75),(2040.22,-0.36),(2040.31,-0.32),(2040.78,-0.32),(2041.03,-0.39),(2041.14,-0.62),(2041.21,-0.77),(2041.29,-0.56),(2041.36,-0.52),(2041.72,-0.52),(2041.85,-0.36),(2041.96,-0.24),(2042.09,0),
(2042.15,0.49),(2042.23,1.01),(2042.30,0.97),(2042.75,0.95),(2042.90,0.88),(2043.01,0.79),(2043.09,0.49),(2043.13,0),
(2043.16,-0.36),(2043.24,-1.01),(2043.31,-0.90),(2043.84,-0.90),(2043.93,-0.88),(2044.01,-0.36),(2044.06,0),
(2044.10,0.49),(2044.18,1.57),(2044.25,1.55),(2044.91,1.55),(2045.00,1.48),(2045.06,0.92),(2045.11,0),
(2045.15,-0.36),(2045.21,-1.05),(2045.30,-0.45),(2045.38,-0.34),(2045.79,-0.34),(2045.90,-0.24),(2046.01,-0.15),(2046.16,-0.24),(2046.28,-0.36),(2046.41,-0.64),(2046.78,-0.64),(2046.88,-0.71),(2046.99,-0.92),(2047.12,-1.20),(2047.21,-0.92),(2047.81,-0.92),(2047.91,-0.79),(2048.04,-0.67),(2048.15,-0.75),(2048.28,-0.64),(2048.84,-0.63),(2048.98,-0.67),(2049.13,-1.20),(2049.24,-0.92),(2049.88,-0.92),(2049.99,-0.79),(2050.06,-0.36),(2050.10,0),
(2050.14,0.92),(2050.21,1.70),(2050.31,1.66),(2050.78,1.66),(2050.96,1.70),(2051.04,1.82),(2051.11,2.17),(2051.19,1.78),(2051.28,1.74),(2051.79,1.74),(2051.98,1.87),(2052.03,2.04),(2052.11,1.44),(2052.18,1.01),(2052.28,1.16),(2052.41,1.17),(2052.88,1.18),(2052.97,1.09),(2053.10,0.49),(2053.18,0),
(2053.21,-0.36),(2053.31,-0.92),(2053.85,-0.93),(2053.93,-0.36),(2053.96,0),(2054.86,0),(2054.90,-0.28),(2054.98,-0.79),(2055.05,0),
(2055.13,0.36),(2055.22,0.43),(2055.31,0.49),(2055.50,0.54),(2055.84,0.58),(2055.95,0.71),(2056.03,0.88),(2056.10,0.49),(2056.18,0.11),(2056.21,0),(2056.25,-0.04),(2056.34,-0.06),(2056.72,-0.04),(2056.81,0),(2056.89,-0.11),(2056.96,-0.28),(2057.04,-0.47),(2057.11,-0.24),(2057.23,-0.17),(2057.38,-0.24),(2057.49,-0.28),(2057.75,-0.28),(2057.86,-0.15),(2057.94,0),
(2057.98,0.49),(2058.05,0.58),(2058.13,1.05),(2058.22,1.12),(2058.88,1.10)]

X_TICKS = [2030, 2035, 2040, 2045, 2050, 2055]
Y_TICKS = [-3, -2, -1, 0, 1, 2, 3]

PANELS_LEFT = [
    ("A", ["SPI - 12 months", "RCP 4.5"], SPI_45),
    ("B", ["SPEI - 12 months", "RCP 4.5"], SPEI_45),
    ("C", ["GRDI - 12 months", "(FC 40 mm) RCP 4.5"], GRDI40_45),
    ("D", ["GRDI - 12 months", "(FC 70 mm) RCP 4.5"], GRDI70_45),
]
PANELS_RIGHT = [
    ("E", ["SPI - 12 months", "RCP 8.5"], SPI_85),
    ("F", ["SPEI - 12 months", "RCP 8.5"], SPEI_85),
    ("G", ["GRDI - 12 months", "(FC 40 mm) RCP 8.5"], GRDI40_85),
    ("H", ["GRDI - 12 months", "(FC 70 mm) RCP 8.5"], GRDI70_85),
]

# ---------------- styling ----------------
W, H = 1341, 468
FONT = "Liberation Sans"
GREY = "#595959"
BLUE = "#0070C0"
RED = "#FF0000"
TITLE_Y = {"SPI": 251, "SPE": 272, "GRD": 321}


def panel(letter, title, series):
    df = pd.DataFrame(series, columns=["year", "value"])
    df["pos"] = df["value"].clip(lower=0)
    df["neg"] = df["value"].clip(upper=0)

    xscale = alt.Scale(domain=[2030, 2058.9], nice=False, zero=False)
    xaxis = alt.Axis(values=X_TICKS, labelExpr="'' + datum.value", grid=False,
                     domain=False, ticks=False, labelFontSize=58, labelColor=GREY,
                     labelPadding=40, labelFlush=False, labelFont=FONT,
                     title="Year", titleFontSize=66, titleFontWeight="normal",
                     titleColor=GREY, titleFont=FONT, titleX=W / 2, titleY=182,
                     titleAlign="center", titleBaseline="alphabetic")
    x = alt.X("year:Q", scale=xscale, axis=xaxis)
    yscale = alt.Scale(domain=[-3, 3], nice=False)
    yaxis = alt.Axis(values=Y_TICKS, labelExpr="'' + datum.value", grid=True,
                     gridColor="#D9D9D9", gridWidth=3.2, domain=False, ticks=False,
                     labelFontSize=58, labelColor=GREY, labelPadding=51, labelFont=FONT,
                     title=title, titleFontSize=64, titleFontWeight="normal",
                     titleColor=GREY, titleFont=FONT, titleAngle=270,
                     titleAlign="center", titleBaseline="middle",
                     titleX=-230, titleY=TITLE_Y[title[0][:3]], titleLineHeight=74)

    base = alt.Chart(df)
    pos = base.mark_area(color=BLUE, interpolate="linear").encode(
        x=x, y=alt.Y("pos:Q", scale=yscale, axis=yaxis))
    neg = base.mark_area(color=RED, interpolate="linear").encode(
        x=x, y=alt.Y("neg:Q", scale=yscale, axis=yaxis))

    # faint light edge along the zero line where the series is drawn
    span = pd.DataFrame({"year": [df["year"].min()], "year_end": [df["year"].max()]})
    edge = alt.Chart(span).mark_rule(color="white", opacity=0.6, strokeWidth=3).encode(
        x=x, x2="year_end:Q", y=alt.datum(0))

    tag = alt.Chart(pd.DataFrame({"t": [letter]})).mark_text(
        align="right", baseline="alphabetic", fontSize=60, fontWeight="bold",
        font=FONT, color="black").encode(
        x=alt.value(W - 22), y=alt.value(-7), text="t:N")
    return alt.layer(pos, neg, edge, tag).properties(width=W, height=H)


rows = [alt.hconcat(panel(*l), panel(*r), spacing=113)
        for l, r in zip(PANELS_LEFT, PANELS_RIGHT)]

chart = alt.vconcat(*rows, spacing=94).properties(
    padding={"left": 19, "top": 26, "right": 10, "bottom": 10},
    background="white",
).configure_view(strokeWidth=0).configure(font=FONT)

chart.save("out.html", embed_options={"renderer": "svg", "actions": False})
